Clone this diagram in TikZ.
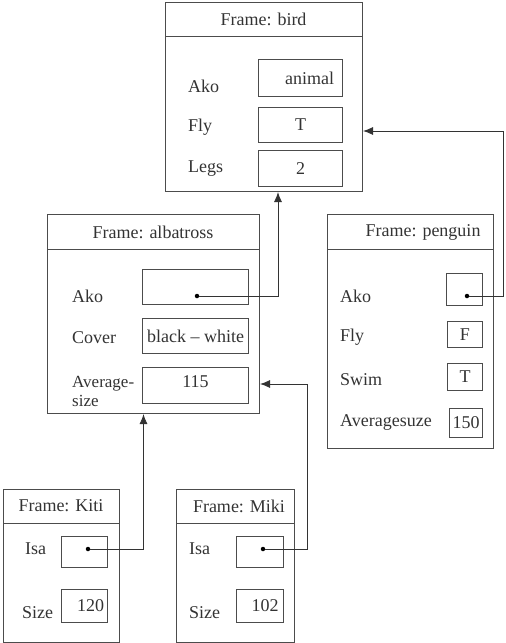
\documentclass[tikz,border=0pt]{standalone}
\usepackage{fontspec}
\setmainfont{Liberation Serif}
\usetikzlibrary{arrows.meta}
\begin{document}
\begin{tikzpicture}[x=1pt,y=-1pt,
    every node/.style={font=\fontsize{18}{16}\selectfont, text=black!80},
    frame/.style={draw=black!70, line width=1pt, anchor=north west, inner sep=0pt},
    slot/.style={draw=black!70, line width=1pt, anchor=north west, inner sep=0pt},
    lbl/.style={anchor=west, inner sep=0pt},
    link/.style={draw=black!80, line width=0.9pt, -{Latex[length=10pt,width=8pt]}},
    dot/.style={circle, fill=black, inner sep=0pt, minimum size=4.5pt}]
  \useasboundingbox (0,0) rectangle (506,643);

  % bird
  \node [ frame, minimum width=197pt, minimum height=189pt ] (bird) at (165,2) {};
  \node (birdtitle) at (263.5,19) {Frame: bird};
  \draw [ black!70, line width=1pt ] (165,36)--(362,36);
  \node [ lbl ] (birdakol) at (188,86) {Ako};
  \node [ lbl ] (birdflyl) at (188,127) {Fly};
  \node [ lbl ] (birdlegsl) at (188,169) {Legs};
  \node [ slot, minimum width=84pt, minimum height=37pt ] (birdako) at (258,59) {\raisebox{-6pt}{\hspace{18pt}animal}};
  \node [ slot, minimum width=84pt, minimum height=35pt ] (birdfly) at (258,107) {T\hspace{22pt}};
  \node [ slot, minimum width=84pt, minimum height=36pt ] (birdlegs) at (258,150) {2\hspace{22pt}};

  % albatross
  \node [ frame, minimum width=212pt, minimum height=199pt ] (alb) at (47,214) {};
  \node (albtitle) at (153,232) {Frame: albatross};
  \draw [ black!70, line width=1pt ] (47,249)--(259,249);
  \node [ lbl ] (albakol) at (72,296) {Ako};
  \node [ lbl ] (albcoverl) at (72,338) {Cover};
  \node [ lbl, align=left, font=\fontsize{17}{19}\selectfont ] (albsizel) at (72,391) {Average-\\size};
  \node [ slot, minimum width=106pt, minimum height=35pt ] (albako) at (142,269) {};
  \node [ slot, minimum width=106pt, minimum height=35pt ] (albcover) at (142,318) {black -- white};
  \node [ slot, minimum width=106pt, minimum height=36pt ] (albsize) at (142,367) {\raisebox{7pt}{115}};
  \node [ dot ] (albakodot) at (197,296) {};

  % penguin
  \node [ frame, minimum width=166pt, minimum height=234pt ] (peng) at (327,214) {};
  \node (pengtitle) at (418,232) {\hspace{10pt}Frame: penguin};
  \draw [ black!70, line width=1pt ] (327,249)--(493,249);
  \node [ lbl ] (pengakol) at (340,296) {Ako};
  \node [ lbl ] (pengflyl) at (340,337) {Fly};
  \node [ lbl ] (pengswiml) at (340,380) {Swim};
  \node [ lbl ] (pengsizel) at (340,422) {Averagesuze};
  \node [ slot, minimum width=36pt, minimum height=32pt ] (pengako) at (446,273) {};
  \node [ slot, minimum width=35pt, minimum height=26pt ] (pengfly) at (447,321) {F};
  \node [ slot, minimum width=35pt, minimum height=27pt ] (pengswim) at (447,363) {T};
  \node [ slot, minimum width=33pt, minimum height=29pt ] (pengsize) at (449,408) {150};
  \node [ dot ] (pengakodot) at (467,296) {};

  % Kiti
  \node [ frame, minimum width=116pt, minimum height=153pt ] (kiti) at (3,489) {};
  \node (krititle) at (61,506) {Frame: Kiti};
  \draw [ black!70, line width=1pt ] (3,523)--(119,523);
  \node [ lbl ] (kitiisal) at (25,549) {Isa};
  \node [ lbl ] (kitisizel) at (22,613) {Size};
  \node [ slot, minimum width=46pt, minimum height=31pt ] (kitiisa) at (61,536) {};
  \node [ slot, minimum width=46pt, minimum height=33pt ] (kitisize) at (61,589) {\raisebox{-5pt}{\hspace{12pt}120}};
  \node [ dot ] (kitiisadot) at (88,549) {};

  % Miki
  \node [ frame, minimum width=118pt, minimum height=153pt ] (miki) at (176,489) {};
  \node (mikititle) at (239,506) {Frame: Miki};
  \draw [ black!70, line width=1pt ] (176,523)--(294,523);
  \node [ lbl ] (mikiisal) at (189,549) {Isa};
  \node [ lbl ] (mikisizel) at (189,613) {Size};
  \node [ slot, minimum width=47pt, minimum height=31pt ] (mikiisa) at (236,536) {};
  \node [ slot, minimum width=47pt, minimum height=33pt ] (mikisize) at (236,589) {\raisebox{-5pt}{\hspace{10pt}102}};
  \node [ dot ] (mikiisadot) at (263,549) {};

  \draw [ link ] (albakodot) -| ([xshift=14pt]bird.south);
  \draw [ link ] (pengakodot) -- ++(36,0) |- ([yshift=-34pt]bird.east);
  \draw [ link ] (kitiisadot) -| ([xshift=-10pt]alb.south);
  \draw [ link ] (mikiisadot) -- ++(44,0) |- ([yshift=-70pt]alb.east);
\end{tikzpicture}
\end{document}
